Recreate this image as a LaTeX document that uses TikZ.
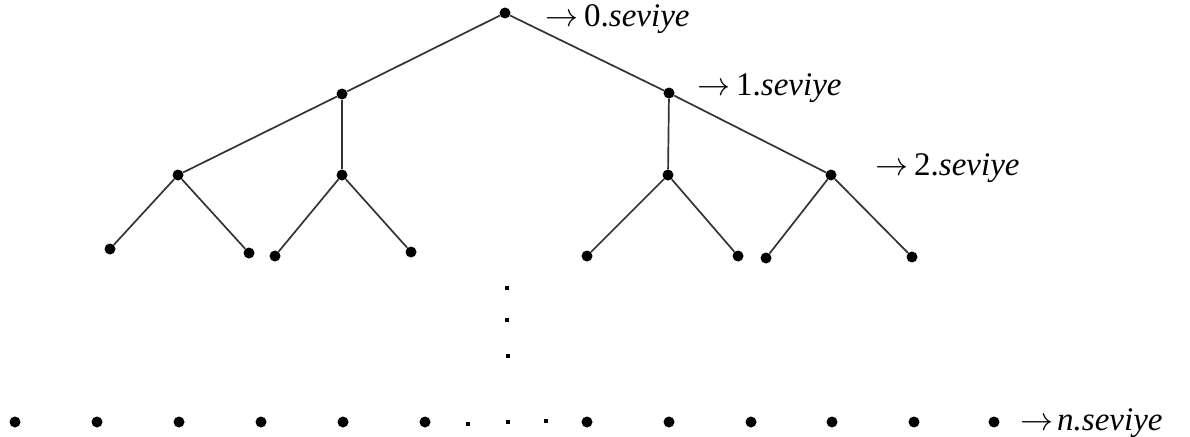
\RequirePackage{fix-cm}
\documentclass[tikz,border=0pt]{standalone}
\usepackage{fontspec}
\setmainfont{Liberation Serif}
\begin{document}
\begin{tikzpicture}[x=1pt,y=-1pt,
  dot/.style={circle,fill=black,inner sep=0pt,minimum size=11pt},
  sdot/.style={rectangle,fill=black,inner sep=0pt,minimum size=4.5pt},
  edge/.style={draw=black!80,line width=1.7pt},
  lbl/.style={anchor=base west,inner sep=0pt,text height=23pt,text depth=7pt,
    font=\fontsize{33}{39}\selectfont}]
\useasboundingbox (0,0) rectangle (1190,436);
% level 0
\node[dot] (r) at (505,13) {};
% level 1
\node[dot] (a) at (342,94) {};
\node[dot] (b) at (669,93) {};
% level 2
\node[dot] (a1) at (178,175) {};
\node[dot] (a2) at (342,175) {};
\node[dot] (b1) at (668,175) {};
\node[dot] (b2) at (831,175) {};
% level 3
\node[dot] (a11) at (110,249) {};
\node[dot] (a12) at (249,253) {};
\node[dot] (a21) at (275,256) {};
\node[dot] (a22) at (411,252) {};
\node[dot] (b11) at (587,256) {};
\node[dot] (b12) at (738,256) {};
\node[dot] (b21) at (766,258) {};
\node[dot] (b22) at (912,257) {};
% edges
\foreach \p/\c in {r/a,r/b,a/a1,a/a2,b/b1,b/b2,a1/a11,a1/a12,a2/a21,a2/a22,b1/b11,b1/b12,b2/b21,b2/b22}
  \draw[edge] (\p) -- (\c);
% vertical ellipsis
\node[sdot] (v1) at (507,288) {};
\node[sdot] (v2) at (507,320) {};
\node[sdot] (v3) at (508,356) {};
% bottom row
\foreach \x [count=\i] in {15,97,179,261,343,425,587,669,751,832,914,994}
  \node[dot] (n\i) at (\x,422) {};
\node[sdot] (h1) at (468,424) {};
\node[sdot] (h2) at (508,422) {};
\node[sdot] (h3) at (546,421) {};
% labels
\node[lbl] (l0) at (545,27) {$\rightarrow$\kern6pt0.\textit{seviye}};
\node[lbl] (l1) at (697,95) {$\rightarrow$\kern6pt1.\textit{seviye}};
\node[lbl] (l2) at (875,175) {$\rightarrow$\kern6pt2.\textit{seviye}};
\node[lbl,text depth=5pt] (ln) at (1020,430) {$\rightarrow$\kern4pt\textit{n.seviye}};
\end{tikzpicture}
\end{document}
